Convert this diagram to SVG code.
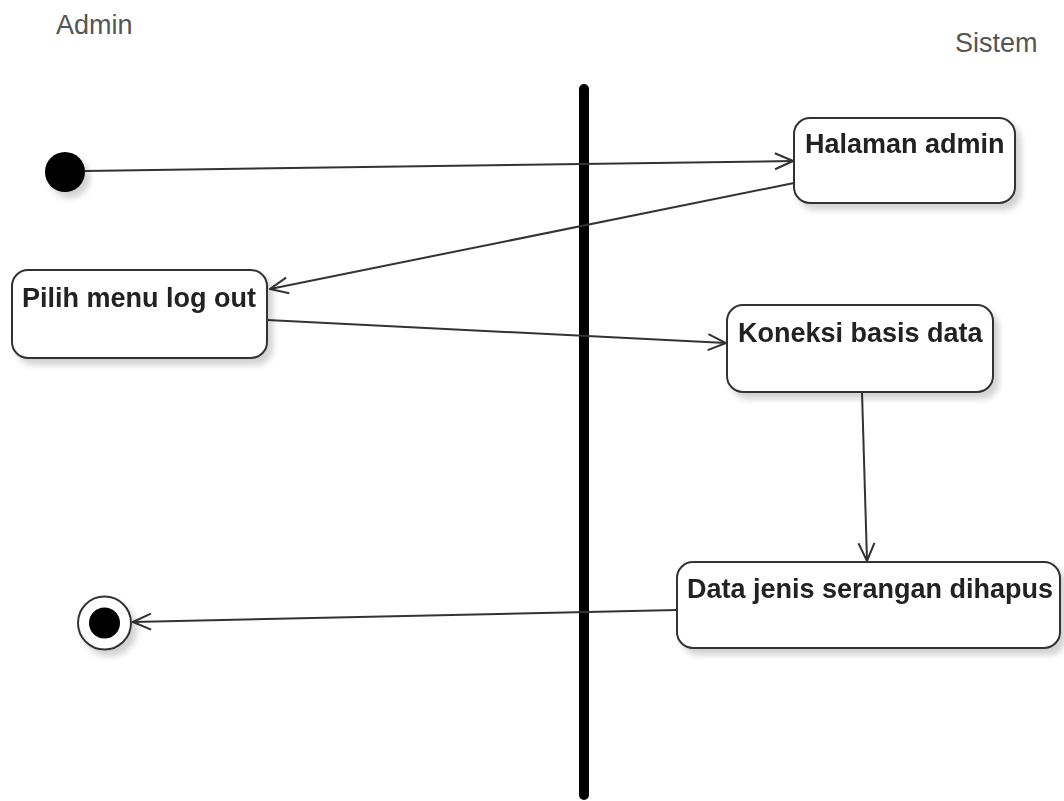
<svg xmlns="http://www.w3.org/2000/svg" width="1064" height="801" viewBox="0 0 1064 801">
  <defs>
    <filter id="shadow" x="-10%" y="-10%" width="130%" height="140%">
      <feGaussianBlur in="SourceAlpha" stdDeviation="3"/>
      <feOffset dx="5" dy="6" result="b"/>
      <feComponentTransfer><feFuncA type="linear" slope="0.18"/></feComponentTransfer>
      <feMerge><feMergeNode/><feMergeNode in="SourceGraphic"/></feMerge>
    </filter>
    <marker id="open-arrow" viewBox="0 0 20 20" refX="19" refY="10" markerWidth="20" markerHeight="20" markerUnits="userSpaceOnUse" orient="auto">
      <path d="M1,2 L19,10 L1,18" fill="none" stroke="#333" stroke-width="2"/>
    </marker>
  </defs>
  <style>
    .lane { font-family: "Liberation Sans", Arial, sans-serif; font-size: 27px; fill: #555; }
    .box { fill: #fff; stroke: #333; stroke-width: 2; }
    .label { font-family: "Liberation Sans", Arial, sans-serif; font-size: 27px; font-weight: bold; fill: #222; }
    .flow { fill: none; stroke: #333; stroke-width: 2; marker-end: url(#open-arrow); }
  </style>

  <rect width="1064" height="801" fill="#fff"/>

  <!-- swimlane titles -->
  <text class="lane" x="56" y="34">Admin</text>
  <text class="lane" x="955" y="52">Sistem</text>

  <!-- lane divider -->
  <line id="divider" x1="584" y1="89" x2="584" y2="795" stroke="#000" stroke-width="10" stroke-linecap="round"/>

  <!-- transitions -->
  <g id="connectors">
    <line class="flow" x1="85" y1="171" x2="793" y2="161"/>
    <line class="flow" x1="794" y1="183" x2="270" y2="289"/>
    <line class="flow" x1="267" y1="320" x2="726" y2="343"/>
    <line class="flow" x1="862" y1="392" x2="867" y2="561"/>
    <line class="flow" x1="677" y1="610" x2="133" y2="622"/>
  </g>

  <g id="start" filter="url(#shadow)">
    <circle cx="65" cy="172" r="20" fill="#000"/>
  </g>

  <g id="halaman-admin" filter="url(#shadow)">
    <rect class="box" x="794" y="118" width="221" height="85" rx="16"/>
    <text class="label" x="805" y="153">Halaman admin</text>
  </g>

  <g id="pilih-menu-logout" filter="url(#shadow)">
    <rect class="box" x="12" y="270" width="255" height="88" rx="16"/>
    <text class="label" x="22" y="307">Pilih menu log out</text>
  </g>

  <g id="koneksi-basis-data" filter="url(#shadow)">
    <rect class="box" x="727" y="305" width="266" height="87" rx="16"/>
    <text class="label" x="738" y="342">Koneksi basis data</text>
  </g>

  <g id="data-dihapus" filter="url(#shadow)">
    <rect class="box" x="677" y="562" width="383" height="86" rx="16"/>
    <text class="label" x="687" y="598">Data jenis serangan dihapus</text>
  </g>

  <g id="end" filter="url(#shadow)">
    <circle cx="104.5" cy="623" r="26.5" fill="#fff" stroke="#333" stroke-width="2"/>
    <circle cx="104.5" cy="623" r="15.5" fill="#000"/>
  </g>
</svg>
